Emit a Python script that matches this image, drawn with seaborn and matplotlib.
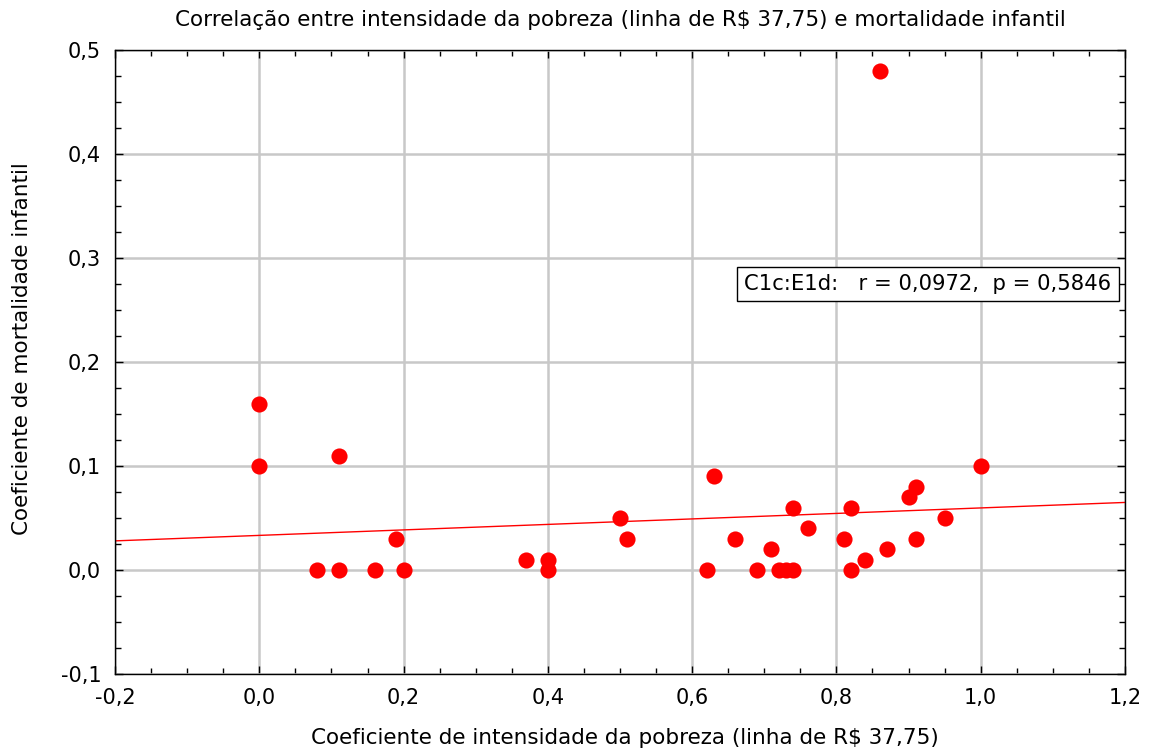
import seaborn as sns
import matplotlib.pyplot as plt
from matplotlib.ticker import MultipleLocator, FuncFormatter
import numpy as np
import pandas as pd

# data
pobreza = [0.00, 0.00, 0.11, 0.08, 0.11, 0.16, 0.19, 0.20, 0.37, 0.40, 0.40,
           0.50, 0.51, 0.62, 0.63, 0.66, 0.69, 0.71, 0.72, 0.73, 0.74, 0.74,
           0.76, 0.81, 0.82, 0.82, 0.84, 0.87, 0.91, 0.95, 0.90, 0.91, 1.00, 0.86]
mortalidade = [0.16, 0.10, 0.11, 0.00, 0.00, 0.00, 0.03, 0.00, 0.01, 0.01, 0.00,
               0.05, 0.03, 0.00, 0.09, 0.03, 0.00, 0.02, 0.00, 0.00, 0.00, 0.06,
               0.04, 0.03, 0.00, 0.06, 0.01, 0.02, 0.03, 0.05, 0.07, 0.08, 0.10, 0.48]
# fitted line as shown (intercept, slope)
fit_intercept = 0.0333
fit_slope = 0.0264

df = pd.DataFrame({'x': pobreza, 'y': mortalidade})

sns.set_style("white")
plt.rcParams['font.family'] = ['DejaVu Sans']
plt.rcParams['text.color'] = 'black'
plt.rcParams['axes.labelcolor'] = 'black'
plt.rcParams['xtick.color'] = 'black'
plt.rcParams['ytick.color'] = 'black'

fig = plt.figure(figsize=(11.55, 7.51), dpi=100)
ax = fig.add_axes([0.0996, 0.1025, 0.8744, 0.8309])

ax.grid(True, color='#c8c8c8', linewidth=1.8, zorder=0)
ax.set_axisbelow(True)

# regression line
xl = np.array([-0.2, 1.2])
ax.plot(xl, fit_intercept + fit_slope * xl, color='red', linewidth=1.0, zorder=2)

sns.scatterplot(data=df, x='x', y='y', ax=ax, color='red', s=135,
                marker='o', edgecolor='red', linewidth=0, zorder=3)

ax.set_xlim(-0.2, 1.2)
ax.set_ylim(-0.1, 0.5)
ax.xaxis.set_major_locator(MultipleLocator(0.2))
ax.xaxis.set_minor_locator(MultipleLocator(0.05))
ax.yaxis.set_major_locator(MultipleLocator(0.1))
ax.yaxis.set_minor_locator(MultipleLocator(0.025))
fmt = FuncFormatter(lambda v, p: f"{v:.1f}".replace('.', ',').replace('-0,0', '0,0'))
ax.xaxis.set_major_formatter(fmt)
ax.yaxis.set_major_formatter(fmt)
ax.tick_params(which='both', direction='in', top=True, right=True,
               bottom=True, left=True, labelsize=15)
ax.tick_params(axis='x', which='major', length=6, width=1, pad=10)
ax.tick_params(axis='y', which='major', length=6, width=1, pad=10)
ax.tick_params(which='minor', length=4, width=1)
for s in ax.spines.values():
    s.set_color('black')
    s.set_linewidth(1)

ax.set_xlabel('Coeficiente de intensidade da pobreza (linha de R$ 37,75)', fontsize=15.5, va='center')
ax.xaxis.set_label_coords(0.505, -0.1026)
ax.set_ylabel('Coeficiente de mortalidade infantil', fontsize=15.5, va='center')
ax.yaxis.set_label_coords(-0.092, 0.522)
ax.set_title('Correlação entre intensidade da pobreza (linha de R$ 37,75) e mortalidade infantil',
             fontsize=15.5, y=1.048, va='center', pad=0)

ax.text(0.623, 0.625, 'C1c:E1d:   r = 0,0972,  p = 0,5846', transform=ax.transAxes,
        fontsize=15.2, va='center', ha='left',
        bbox=dict(boxstyle='square,pad=0.35', facecolor='white', edgecolor='black', linewidth=1))

fig.savefig('out.png', dpi=100)
